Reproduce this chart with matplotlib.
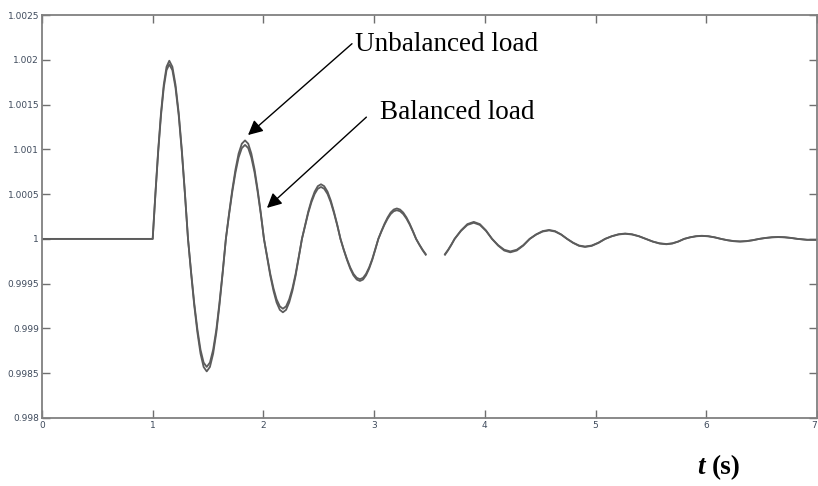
import numpy as np
import matplotlib
matplotlib.use("Agg")
import matplotlib.pyplot as plt
from matplotlib.ticker import FixedLocator, FixedFormatter

# Sample times (s) of the rotor-speed response
t_s = [0.0, 1.0,
       1.025, 1.05, 1.075, 1.10, 1.125, 1.15,
       1.178, 1.206, 1.235, 1.263, 1.291, 1.319,
       1.347, 1.375, 1.404, 1.432, 1.460, 1.488,
       1.517, 1.546, 1.575, 1.603, 1.632, 1.661,
       1.690, 1.719, 1.748, 1.776, 1.805, 1.834,
       1.863, 1.891, 1.920, 1.948, 1.977, 2.005,
       2.034, 2.062, 2.091, 2.119, 2.148, 2.176,
       2.205, 2.233, 2.262, 2.291, 2.319, 2.348,
       2.377, 2.405, 2.434, 2.463, 2.491, 2.52,
       2.549, 2.579, 2.608, 2.637, 2.667, 2.696,
       2.725, 2.755, 2.784, 2.813, 2.843, 2.872,
       2.900, 2.927, 2.955, 2.983, 3.010, 3.038,
       3.066, 3.094, 3.122, 3.149, 3.177, 3.205,
       3.234, 3.263, 3.292, 3.321, 3.350, 3.379,
       3.408, 3.437, 3.466, 3.495, 3.524, 3.553,
       3.582, 3.611, 3.640, 3.669, 3.698, 3.727,
       3.785, 3.842, 3.90, 3.955, 4.01, 4.065,
       4.12, 4.175, 4.23, 4.288, 4.347, 4.405,
       4.463, 4.522, 4.58, 4.634, 4.689, 4.743,
       4.797, 4.851, 4.905, 4.965, 5.026, 5.086,
       5.146, 5.207, 5.267, 5.329, 5.392, 5.454,
       5.516, 5.578, 5.64, 5.693, 5.747, 5.80,
       5.853, 5.907, 5.96, 6.018, 6.075, 6.133,
       6.19, 6.248, 6.305, 6.363, 6.42, 6.478,
       6.535, 6.593, 6.65, 6.708, 6.767, 6.825,
       6.91, 7.0]

# Speed (pu) with unbalanced load
w_unbalanced = [1.0, 1.0,
                1.000515, 1.000995, 1.001407, 1.001723, 1.001922, 1.00199,
                1.001922, 1.001723, 1.001407, 1.000995, 1.000515, 1.0,
                0.999617, 0.99926, 0.998954, 0.998718, 0.99857, 0.99852,
                0.99857, 0.998718, 0.998954, 0.99926, 0.999617, 1.0,
                1.000285, 1.00055, 1.000778, 1.000953, 1.001063, 1.0011,
                1.001063, 1.000953, 1.000778, 1.00055, 1.000285, 1.0,
                0.999788, 0.99959, 0.99942, 0.99929, 0.999208, 0.99918,
                0.999208, 0.99929, 0.99942, 0.99959, 0.999788, 1.0,
                1.000158, 1.000305, 1.000431, 1.000528, 1.000589, 1.00061,
                1.000589, 1.000528, 1.000431, 1.000305, 1.000158, 1.0,
                0.999878, 0.999765, 0.999668, 0.999593, 0.999546, 0.99953,
                0.999546, 0.999593, 0.999668, 0.999765, 0.999878, 1.0,
                1.000088, 1.00017, 1.00024, 1.000294, 1.000328, 1.00034,
                1.000328, 1.000294, 1.00024, 1.00017, 1.000088, 1.0,
                0.999935, 0.999875, 0.999823, 0.999783, 0.999759, 0.99975,
                0.999759, 0.999783, 0.999823, 0.999875, 0.999935, 1.0,
                1.000095, 1.000165, 1.00019, 1.000165, 1.000095, 1.0,
                0.999925, 0.99987, 0.99985, 0.99987, 0.999925, 1.0,
                1.00005, 1.000087, 1.0001, 1.000087, 1.00005, 1.0,
                0.999955, 0.999922, 0.99991, 0.999922, 0.999955, 1.0,
                1.00003, 1.000052, 1.00006, 1.000052, 1.00003, 1.0,
                0.99997, 0.999948, 0.99994, 0.999948, 0.99997, 1.0,
                1.000018, 1.00003, 1.000035, 1.00003, 1.000018, 1.0,
                0.999985, 0.999974, 0.99997, 0.999974, 0.999985, 1.0,
                1.000011, 1.000019, 1.000022, 1.000019, 1.000011, 1.0,
                0.99999, 0.99999]

# Speed (pu) with balanced load
w_balanced = [1.0, 1.0,
              1.000505, 1.000975, 1.001379, 1.001689, 1.001884, 1.00195,
              1.001884, 1.001689, 1.001379, 1.000975, 1.000505, 1.0,
              0.99963, 0.999285, 0.998989, 0.998762, 0.998619, 0.99857,
              0.998619, 0.998762, 0.998989, 0.999285, 0.99963, 1.0,
              1.000272, 1.000525, 1.000742, 1.000909, 1.001014, 1.00105,
              1.001014, 1.000909, 1.000742, 1.000525, 1.000272, 1.0,
              0.999798, 0.99961, 0.999448, 0.999325, 0.999247, 0.99922,
              0.999247, 0.999325, 0.999448, 0.99961, 0.999798, 1.0,
              1.00015, 1.00029, 1.00041, 1.000502, 1.00056, 1.00058,
              1.00056, 1.000502, 1.00041, 1.00029, 1.00015, 1.0,
              0.999884, 0.999775, 0.999682, 0.99961, 0.999565, 0.99955,
              0.999565, 0.99961, 0.999682, 0.999775, 0.999884, 1.0,
              1.000083, 1.00016, 1.000226, 1.000277, 1.000309, 1.00032,
              1.000309, 1.000277, 1.000226, 1.00016, 1.000083, 1.0,
              0.999938, 0.99988, 0.99983, 0.999792, 0.999768, 0.99976,
              0.999768, 0.999792, 0.99983, 0.99988, 0.999938, 1.0,
              1.00009, 1.000156, 1.00018, 1.000156, 1.00009, 1.0,
              0.99993, 0.999879, 0.99986, 0.999879, 0.99993, 1.0,
              1.000048, 1.000082, 1.000095, 1.000082, 1.000048, 1.0,
              0.999958, 0.999926, 0.999915, 0.999926, 0.999958, 1.0,
              1.000029, 1.000049, 1.000057, 1.000049, 1.000029, 1.0,
              0.999971, 0.999951, 0.999943, 0.999951, 0.999971, 1.0,
              1.000017, 1.000029, 1.000033, 1.000029, 1.000017, 1.0,
              0.999986, 0.999976, 0.999972, 0.999976, 0.999986, 1.0,
              1.00001, 1.000017, 1.00002, 1.000017, 1.00001, 1.0,
              0.99999, 0.99999]

x_ticks = [0, 1, 2, 3, 4, 5, 6, 7]
x_tick_labels = ["0", "1", "2", "3", "4", "5", "6", "7"]
y_ticks = [0.998, 0.9985, 0.999, 0.9995, 1.0, 1.0005, 1.001, 1.0015, 1.002, 1.0025]
y_tick_labels = ["0.998", "0.9985", "0.999", "0.9995", "1", "1.0005",
                 "1.001", "1.0015", "1.002", "1.0025"]

# interval where the trace is blanked out
gap = (3.47, 3.635)

t = np.array(t_s)
hidden = (t > gap[0]) & (t < gap[1])


def blank(v):
    v = np.array(v, dtype=float)
    v[hidden] = np.nan
    return v


fig = plt.figure(figsize=(8.18, 4.86), dpi=100)
ax = fig.add_axes([0.0513, 0.140, 0.9475, 0.829])

line_col = "#5c5c5c"
ax.plot(t, blank(w_unbalanced), color=line_col, lw=1.3, solid_joinstyle="round")
ax.plot(t, blank(w_balanced), color=line_col, lw=1.3, solid_joinstyle="round")

ax.set_xlim(0, 7)
ax.set_ylim(0.998, 1.0025)

tick_family = ["Liberation Sans Narrow", "DejaVu Sans"]
tick_col = "#3e4a5c"
ax.xaxis.set_major_locator(FixedLocator(x_ticks))
ax.xaxis.set_major_formatter(FixedFormatter(x_tick_labels))
ax.yaxis.set_major_locator(FixedLocator(y_ticks))
ax.yaxis.set_major_formatter(FixedFormatter(y_tick_labels))
ax.tick_params(direction="in", length=5.5, width=1.0, color="#6f6f6f",
               top=True, right=True, labelcolor=tick_col, pad=2)
for lab in ax.get_xticklabels() + ax.get_yticklabels():
    lab.set_fontfamily(tick_family)
    lab.set_fontsize(6.5)
ax.get_xticklabels()[-1].set_horizontalalignment("right")

for sp in ax.spines.values():
    sp.set_color("#808080")
    sp.set_linewidth(1.3)

serif = ["Liberation Serif", "DejaVu Serif"]
ax.text(2.827, 1.00217, "Unbalanced load", family=serif, fontsize=19.5,
        va="center", ha="left", color="black")
ax.text(3.053, 1.00141, "Balanced load", family=serif, fontsize=19.5,
        va="center", ha="left", color="black")

arrow = dict(arrowstyle="-|>", color="black", lw=1.0,
             mutation_scale=22, shrinkA=0, shrinkB=0)
ax.annotate("", xy=(1.861, 1.00116), xytext=(2.80, 1.00218), arrowprops=arrow)
ax.annotate("", xy=(2.032, 1.000346), xytext=(2.93, 1.00136), arrowprops=arrow)

fig.text(0.8525, 0.038, "t", family=serif, fontsize=19.5, fontweight="bold",
         fontstyle="italic", ha="left", va="center")
fig.text(0.8700, 0.038, "(s)", family=serif, fontsize=19.5, fontweight="bold",
         ha="left", va="center")

fig.savefig("out.png", dpi=100)
